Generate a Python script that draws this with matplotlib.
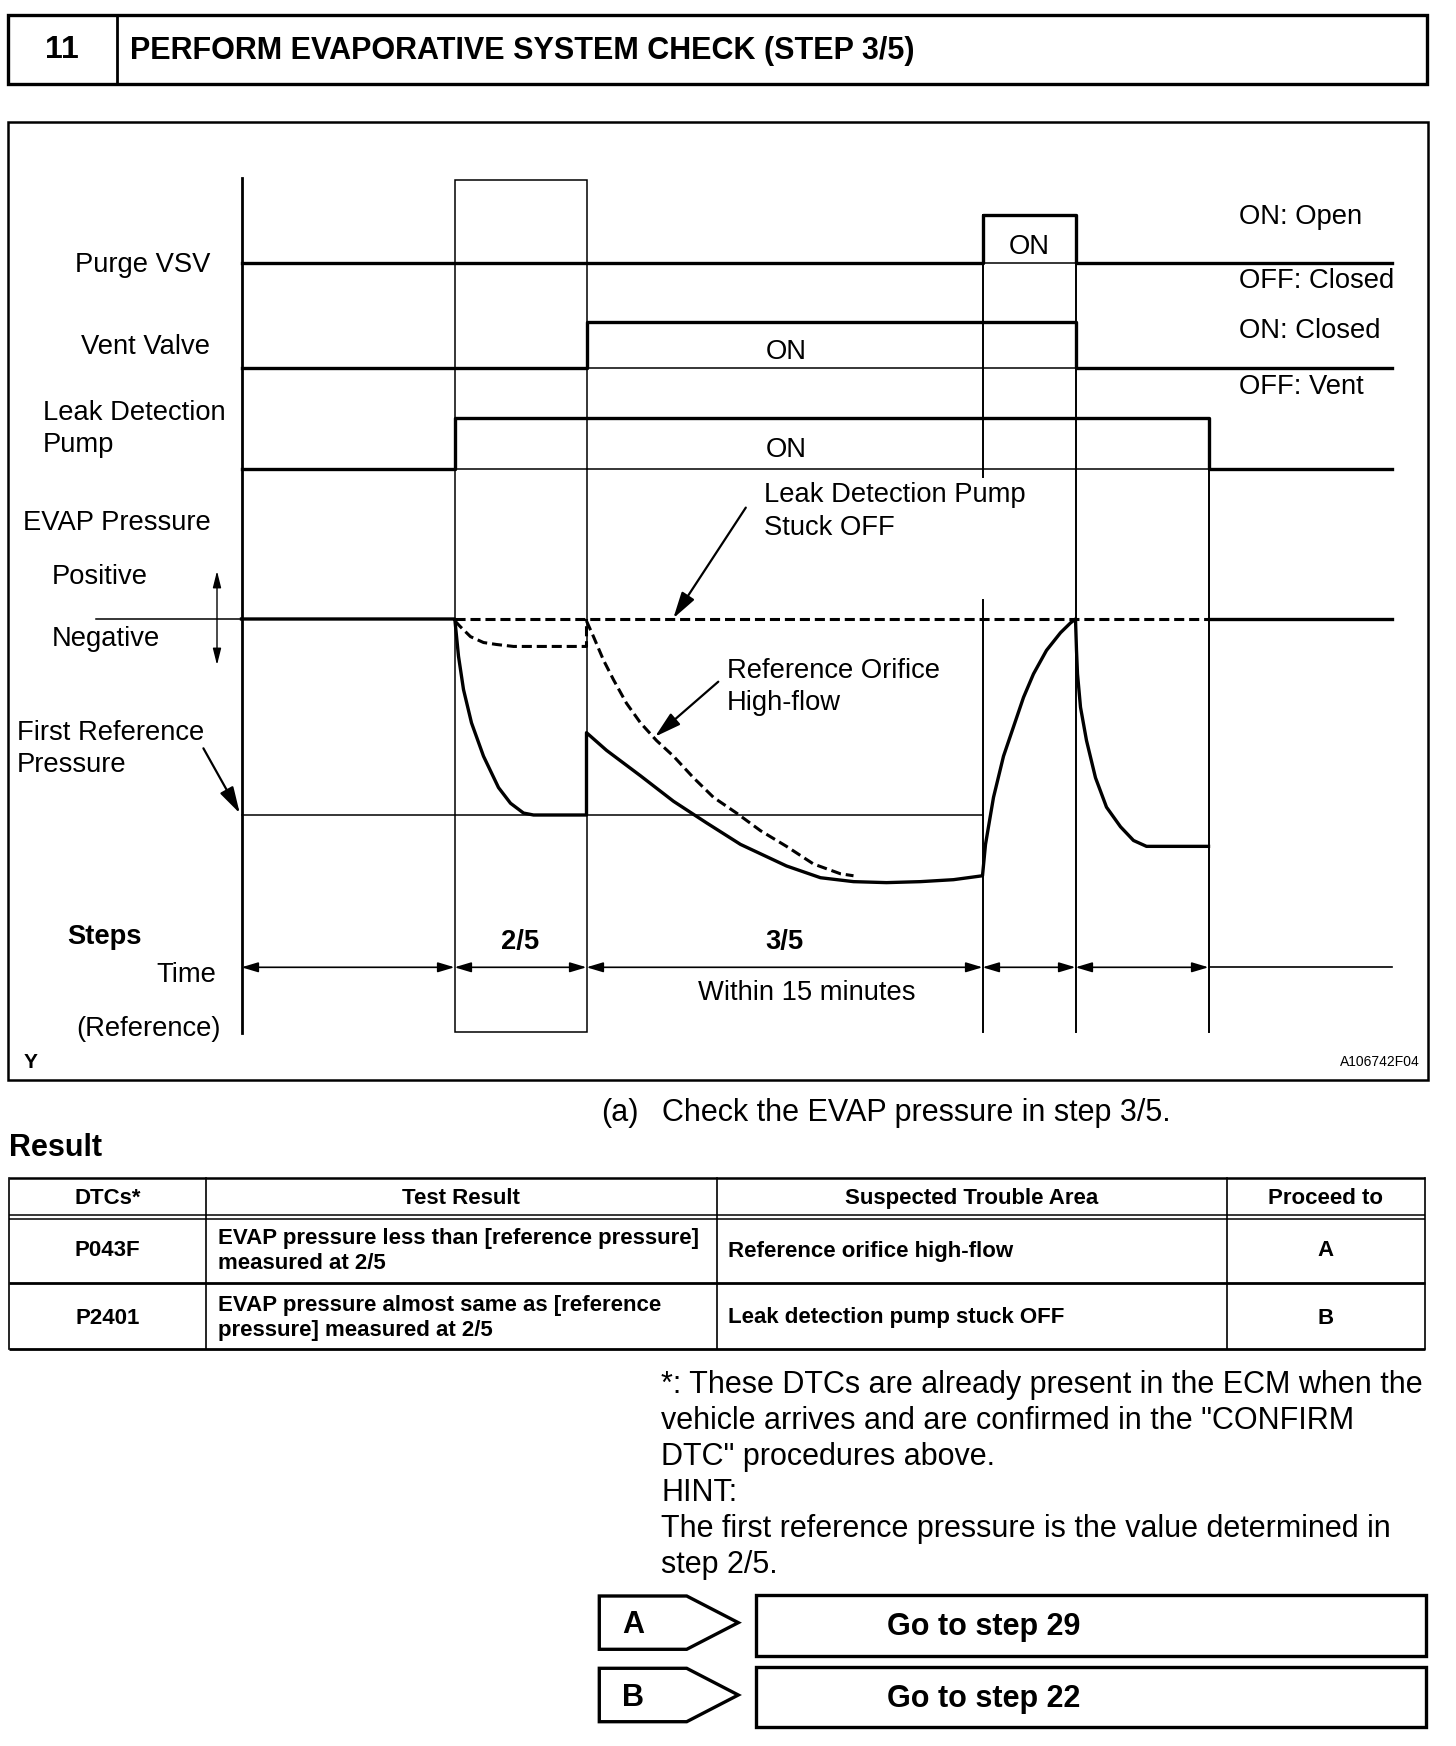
import matplotlib
matplotlib.use("Agg")
import matplotlib.pyplot as plt
from matplotlib.patches import Rectangle, Polygon

plt.rcParams['font.family'] = ['Liberation Sans', 'DejaVu Sans']

W, H = 1456, 1746
T0, TSCALE = 241.5, 100.0   # pixel of t=0 and pixels per time unit
DY = 2.5                    # text nudge so caps sit on the reference centre lines

# ---------------- data ----------------
t_events = [0.0, 2.13, 3.45, 7.41, 8.34, 9.67, 11.5]
step_names = ['', '2/5', '3/5', '', '', '']
purge_vsv = [0, 0, 0, 1, 0, 0]
vent_valve = [0, 0, 1, 1, 0, 0]
leak_pump = [0, 1, 1, 1, 1, 0]

# EVAP pressure: 0 = atmosphere, -1 = first reference pressure
evap_t = [0.0, 2.13, 2.135, 2.17, 2.22, 2.30, 2.42, 2.57, 2.69, 2.82, 2.92, 3.45,
          3.45, 3.65, 3.99, 4.32, 4.65, 4.99, 5.45, 5.79, 6.12, 6.45, 6.79, 7.12, 7.41,
          7.44, 7.52, 7.62, 7.72, 7.82, 7.92, 8.05, 8.19, 8.29, 8.34,
          8.35, 8.36, 8.39, 8.45, 8.54, 8.65, 8.79, 8.92, 9.05, 9.67]
evap_p = [0.0, 0.0, -0.01, -0.19, -0.36, -0.53, -0.70, -0.86, -0.94, -0.99, -1.0, -1.0,
          -0.58, -0.67, -0.80, -0.93, -1.04, -1.15, -1.26, -1.32, -1.34, -1.345, -1.34, -1.33, -1.31,
          -1.15, -0.91, -0.70, -0.55, -0.40, -0.28, -0.16, -0.07, -0.02, 0.0,
          -0.16, -0.28, -0.45, -0.62, -0.81, -0.96, -1.06, -1.13, -1.16, -1.16]
stuck_t = [2.135, 2.19, 2.29, 2.42, 2.55, 2.72, 3.45, 3.45]
stuck_p = [-0.01, -0.04, -0.09, -0.12, -0.13, -0.14, -0.14, 0.0]
orifice_t = [3.45, 3.52, 3.62, 3.72, 3.85, 3.99, 4.15, 4.32, 4.52, 4.72, 4.95, 5.19,
             5.45, 5.72, 5.99, 6.12]
orifice_p = [-0.01, -0.09, -0.21, -0.31, -0.43, -0.53, -0.62, -0.70, -0.81, -0.91,
             -0.99, -1.08, -1.16, -1.25, -1.30, -1.31]

table_header = ['DTCs*', 'Test Result', 'Suspected Trouble Area', 'Proceed to']
dtc_codes = ['P043F', 'P2401']
test_results = ['EVAP pressure less than [reference pressure]\nmeasured at 2/5',
                'EVAP pressure almost same as [reference\npressure] measured at 2/5']
trouble_areas = ['Reference orifice high-flow', 'Leak detection pump stuck OFF']
proceed_to = ['A', 'B']
go_to = ['Go to step 29', 'Go to step 22']
notes = ['*: These DTCs are already present in the ECM when the',
         'vehicle arrives and are confirmed in the "CONFIRM',
         'DTC" procedures above.',
         'HINT:',
         'The first reference pressure is the value determined in',
         'step 2/5.']

THICK, THIN = 2.4, 1.1
DASH = (0, (3.3, 1.6))
LBL = 19.7

fig = plt.figure(figsize=(W / 100, H / 100), dpi=100)
page = fig.add_axes([0, 0, 1, 1])
page.set_xlim(0, W)
page.set_ylim(H, 0)
page.axis('off')


def lane(y_lo, y_hi, v_lo, v_hi):
    a = fig.add_axes([0, 1 - y_lo / H, 1, (y_lo - y_hi) / H])
    a.set_xlim(-T0 / TSCALE, (W - T0) / TSCALE)
    a.set_ylim(v_lo, v_hi)
    a.axis('off')
    return a


def txt(x, y, s, size=LBL, **kw):
    kw.setdefault('va', 'center')
    page.text(x, y + DY, s, fontsize=size, color='k', **kw)


# title bar
page.add_patch(Rectangle((7.8, 14.5), 1419.2, 69, fill=False, lw=2.4))
page.plot([116.9, 116.9], [14.5, 83.5], 'k', lw=2.0)
txt(62, 48, '11', 23, weight='bold', ha='center')
txt(130, 48, 'PERFORM EVAPORATIVE SYSTEM CHECK (STEP 3/5)', 22, weight='bold')

# diagram frame
page.add_patch(Rectangle((7.8, 122.4), 1420.2, 957.3, fill=False, lw=1.8))

# signals
for states, (y_off, y_on) in zip([purge_vsv, vent_valve, leak_pump],
                                 [(262.7, 214.8), (368.4, 321.7), (468.6, 418.5)]):
    a = lane(y_off, y_on, 0, 1)
    a.step(t_events, states + [states[-1]], where='post', color='k', lw=THICK,
           clip_on=False)
    for i, s in enumerate(states):
        if s:
            a.plot([t_events[i], t_events[i + 1]], [0, 0], 'k', lw=THIN, clip_on=False)

# pressure
pa = lane(815, 619, -1, 0)
pa.plot(evap_t, evap_p, 'k', lw=THICK, clip_on=False)
pa.plot([t_events[5], t_events[6]], [0, 0], 'k', lw=THICK, clip_on=False)
pa.plot([t_events[1], t_events[5]], [0, 0], 'k', lw=2.2, ls=DASH, clip_on=False)
pa.plot(stuck_t, stuck_p, 'k', lw=2.2, ls=DASH, clip_on=False)
pa.plot(orifice_t, orifice_p, 'k', lw=2.2, ls=DASH, clip_on=False)
pa.plot([t_events[0], t_events[3]], [-1, -1], 'k', lw=THIN, clip_on=False)

# grid lines and time row
g = lane(H, 0, H, 0)
g.plot([0, 0], [178, 1033], 'k', lw=2.0)
g.add_patch(Rectangle((t_events[1], 180.3), t_events[2] - t_events[1], 851.5,
                      fill=False, lw=THIN))
g.plot([t_events[3]] * 2, [214.8, 477], 'k', lw=1.4)
g.plot([t_events[3]] * 2, [600, 1032], 'k', lw=1.4)
g.plot([t_events[4]] * 2, [214.8, 1032], 'k', lw=1.4)
g.plot([t_events[5]] * 2, [418.5, 1032], 'k', lw=1.4)
for i in range(5):
    g.annotate('', xy=(t_events[i], 967.3), xytext=(t_events[i + 1], 967.3),
               arrowprops=dict(arrowstyle='<|-|>,head_length=1.0,head_width=0.3',
                               lw=1.2, color='k', shrinkA=0, shrinkB=0,
                               mutation_scale=10))
g.plot([t_events[5], t_events[6]], [967.3, 967.3], 'k', lw=1.2)
for name, a, b in zip(step_names, t_events[:-1], t_events[1:]):
    if name:
        g.text((a + b) / 2, 940 + DY, name, fontsize=LBL, weight='bold',
               ha='center', va='center')

page.plot([96, 241.5], [619, 619], 'k', lw=THIN)
page.annotate('', xy=(217, 571), xytext=(217, 665),
              arrowprops=dict(arrowstyle='<|-|>,head_length=1.0,head_width=0.25',
                              lw=1.0, color='k', shrinkA=0, shrinkB=0, mutation_scale=10))
arrow_kw = dict(arrowstyle='-|>,head_length=1.6,head_width=0.45', lw=1.6, color='k',
                shrinkA=0, shrinkB=0, mutation_scale=10)
page.annotate('', xy=(673.3, 618.3), xytext=(745.8, 507.6), arrowprops=arrow_kw)
page.annotate('', xy=(655, 736.7), xytext=(718.3, 681.7), arrowprops=arrow_kw)
page.annotate('', xy=(239.8, 813.3), xytext=(203.4, 748.3), arrowprops=arrow_kw)

# diagram labels
txt(210, 263, 'Purge VSV', ha='right')
txt(210, 345, 'Vent Valve', ha='right')
txt(43, 411, 'Leak Detection')
txt(43, 443, 'Pump')
txt(211, 520, 'EVAP Pressure', ha='right')
txt(52, 575, 'Positive')
txt(52, 636, 'Negative')
txt(17, 731, 'First Reference')
txt(17, 763, 'Pressure')
txt(67, 934, 'Steps', weight='bold')
txt(216, 973, 'Time', ha='right')
txt(221, 1026, '(Reference)', ha='right')
txt(1029, 245, 'ON', ha='center')
txt(786, 349.5, 'ON', ha='center')
txt(786, 447.5, 'ON', ha='center')
txt(1239, 215, 'ON: Open')
txt(1239, 278, 'OFF: Closed')
txt(1239, 328, 'ON: Closed')
txt(1239, 384, 'OFF: Vent')
txt(763.6, 493, 'Leak Detection Pump')
txt(763.6, 525.5, 'Stuck OFF')
txt(726.7, 669, 'Reference Orifice')
txt(726.7, 701, 'High-flow')
txt(807, 991, 'Within 15 minutes', ha='center')
txt(24, 1060, 'Y', 15, weight='bold')
txt(1420, 1059, 'A106742F04', 10, ha='right')

# text below diagram
txt(601, 1110, '(a)', 22)
txt(662, 1110, 'Check the EVAP pressure in step 3/5.', 22)
txt(9, 1146, 'Result', 22, weight='bold')

# table
cols = [9.3, 206, 716.8, 1226.6, 1425]
for y, lw in [(1178, 1.8), (1214.5, 1.1), (1218.5, 1.1), (1283, 2.0), (1349, 2.0)]:
    page.plot([cols[0], cols[-1]], [y, y], 'k', lw=lw, solid_capstyle='butt')
for x in cols:
    page.plot([x, x], [1178, 1349], 'k', lw=1.2)
for i, h in enumerate(table_header):
    txt((cols[i] + cols[i + 1]) / 2, 1196, h, 16, weight='bold', ha='center')
for r, yc in enumerate([1248.5, 1315.5]):
    txt((cols[0] + cols[1]) / 2, yc, dtc_codes[r], 16, weight='bold', ha='center')
    txt(218, yc, test_results[r], 16, weight='bold', linespacing=1.25)
    txt(728, yc, trouble_areas[r], 16, weight='bold')
    txt((cols[3] + cols[4]) / 2, yc, proceed_to[r], 16, weight='bold', ha='center')

# notes
for i, line in enumerate(notes):
    txt(661, 1383 + i * 35.8, line, 22)

# result boxes
for k, (top, bot) in enumerate([(1596, 1649.3), (1668.3, 1721.7)]):
    mid = (top + bot) / 2
    page.add_patch(Polygon([(599.3, top), (686.7, top), (738.3, mid), (686.7, bot),
                            (599.3, bot)], closed=True, fill=False, lw=2.4))
    txt(633, mid, proceed_to[k], 22, weight='bold', ha='center')
    btop = [1595, 1666.5][k]
    page.add_patch(Rectangle((755.8, btop), 670.1, 60.5, fill=False, lw=2.4))
    txt(887, btop + 30, go_to[k], 22, weight='bold')

fig.savefig('out.png', dpi=100)
